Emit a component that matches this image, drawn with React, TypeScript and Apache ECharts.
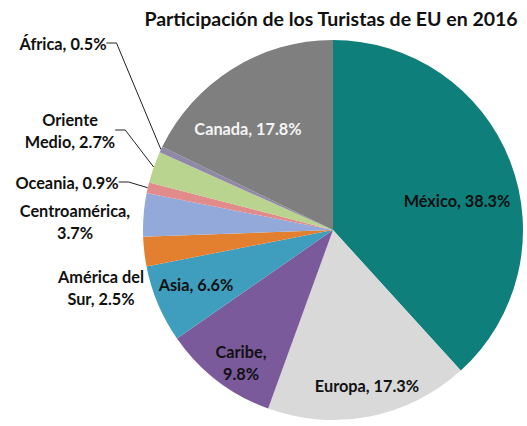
import React, { useEffect, useRef } from "react";
import * as echarts from "echarts";

const titleText = "Participación de los Turistas de EU en 2016";
const categories = ["México", "Europa", "Caribe", "Asia", "América del Sur", "Centroamérica", "Oceania", "Oriente Medio", "África", "Canada"];
const shares = [38.3, 17.3, 9.8, 6.6, 2.5, 3.7, 0.9, 2.7, 0.5, 17.8];
const labelNames = ["México", "Europa", "Caribe,\n", "Asia", "América del\nSur", "Centroamérica,\n", "Oceania", "Oriente\nMedio", "África", "Canada"];
const colors = ["#0f7f7b", "#d9d9d9", "#7b5a9b", "#3f9dbd", "#e2802f", "#93a9da", "#e28b8b", "#b9d48e", "#8f88a6", "#7f7f7f"];
const insideLabel = [true, true, true, true, false, false, false, false, false, true];
const showLine = [false, false, false, false, false, false, true, true, true, false];
const labelColors = ["#111", "#111", "#111", "#111", "#111", "#111", "#111", "#111", "#111", "#f4f4f4"];
const labelPos: [number, number][] = [
  [457, 200], [367, 385], [241, 362], [196, 284], [101, 287],
  [75, 221], [67, 182], [70, 130], [63, 43], [248, 128],
];

const FONT = "Lato";

export default function App() {
  const ref = useRef<HTMLDivElement>(null);
  useEffect(() => {
    document.body.style.margin = "0";
    const chart = echarts.init(ref.current!, null, { renderer: "svg" });
    const data = categories.map((name, i) => ({
      name,
      value: shares[i],
      itemStyle: { color: colors[i] },
      label: {
        position: insideLabel[i] ? "inside" : "outside",
        color: labelColors[i],
        formatter: () => {
          const n = labelNames[i];
          const sep = n.endsWith("\n") ? "" : ", ";
          return n + sep + shares[i].toFixed(1) + "%";
        },
      },
      labelLine: { show: showLine[i] },
    }));
    chart.setOption({
      animation: false,
      graphic: [
        {
          type: "text",
          x: 331,
          y: 18,
          style: {
            text: titleText,
            fontFamily: FONT,
            fontWeight: "bold",
            fontSize: 19.5,
            fill: "#111",
            textAlign: "center",
            textVerticalAlign: "middle",
          },
        },
      ],
      series: [
        {
          type: "pie",
          center: [333, 230],
          radius: 190,
          startAngle: 90,
          clockwise: true,
          avoidLabelOverlap: false,
          data,
          label: {
            fontFamily: FONT,
            fontWeight: "bold",
            fontSize: 16.3,
            lineHeight: 22,
            align: "center",
          },
          labelLine: {
            lineStyle: { color: "#222", width: 1 },
            length: 10,
            length2: 10,
          },
          labelLayout: (p: any) => {
            const pos = labelPos[p.dataIndex];
            return { x: pos[0], y: pos[1], align: "center", verticalAlign: "middle" };
          },
        },
      ],
    });
    return () => chart.dispose();
  }, []);
  return <div ref={ref} style={{ width: 527, height: 426 }} />;
}
